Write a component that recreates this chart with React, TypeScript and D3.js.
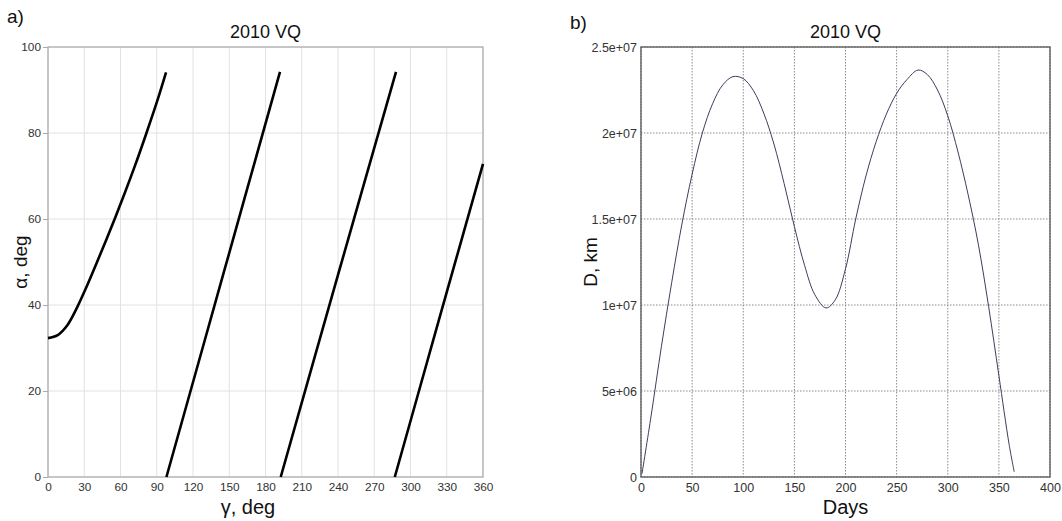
import React, { useEffect, useRef } from 'react';
import * as d3 from 'd3';

// panel a) gamma / alpha branches
const gammaTicks = [0, 30, 60, 90, 120, 150, 180, 210, 240, 270, 300, 330, 360];
const alphaTicks = [0, 20, 40, 60, 80, 100];

const branch1Gamma = [0, 8, 16, 24, 32, 40, 48, 56, 64, 72, 81, 90, 97.7];
const branch1Alpha = [32.3, 33.0, 35.3, 39.4, 44.3, 49.6, 55.0, 60.6, 66.4, 72.4, 79.6, 87.1, 94.1];
const branch2Gamma = [98, 145, 192];
const branch2Alpha = [0, 47.1, 94.2];
const branch3Gamma = [192.6, 240, 288];
const branch3Alpha = [0, 47, 94.2];
const branch4Gamma = [287, 323, 360];
const branch4Alpha = [0, 36, 72.8];

// panel b) distance over the year (millions of km)
const dayTicks = [0, 50, 100, 150, 200, 250, 300, 350, 400];
const distTicks = [0, 5e6, 1e7, 1.5e7, 2e7, 2.5e7];
const distTickLabels = ['0', '5e+06', '1e+07', '1.5e+07', '2e+07', '2.5e+07'];
const days = [1, 10, 20, 30, 40, 50, 60, 70, 80, 90, 100, 110, 120, 130, 140, 150, 160, 170, 181,
    190, 200, 210, 220, 230, 240, 250, 260, 271, 280, 290, 300, 310, 320, 330, 340, 350, 360, 365];
const distMkm = [0.2, 3.6, 7.6, 11.3, 14.7, 17.6, 20.0, 21.7, 22.8, 23.28, 23.16, 22.46, 21.16, 19.36, 17.06, 14.56,
    12.3, 10.6, 9.83, 10.3, 12.1, 15.0, 17.5, 19.5, 21.1, 22.3, 23.1, 23.66, 23.4, 22.5, 21.0, 18.9, 16.4,
    13.5, 9.9, 5.9, 1.9, 0.3];

const FONT = 'Liberation Sans, Arial, sans-serif';

export default function App() {
    const ref = useRef<SVGSVGElement>(null);

    useEffect(() => {
        if (!ref.current) return;
        const svg = d3.select(ref.current);
        svg.selectAll('*').remove();

        svg.append('rect').attr('width', 1062).attr('height', 521).attr('fill', '#fff');

        const top = 47, bottom = 477;

        // ---------- panel a ----------
        const xa = d3.scaleLinear().domain([0, 360]).range([48, 483]);
        const ya = d3.scaleLinear().domain([0, 100]).range([bottom, top]);
        const ga = svg.append('g');

        ga.selectAll('line.vg').data(gammaTicks).join('line')
            .attr('x1', d => xa(d)).attr('x2', d => xa(d))
            .attr('y1', top).attr('y2', bottom)
            .attr('stroke', '#e2e2e2').attr('stroke-width', 1);
        ga.selectAll('line.hg').data(alphaTicks).join('line')
            .attr('x1', xa(0)).attr('x2', xa(360))
            .attr('y1', d => ya(d)).attr('y2', d => ya(d))
            .attr('stroke', '#e2e2e2').attr('stroke-width', 1);

        const axA = ga.append('g').attr('transform', `translate(0,${bottom})`)
            .call(d3.axisBottom(xa).tickValues(gammaTicks).tickSize(0).tickPadding(6));
        const ayA = ga.append('g').attr('transform', `translate(${xa(0)},0)`)
            .call(d3.axisLeft(ya).tickValues(alphaTicks).tickSize(5).tickPadding(2));
        [axA, ayA].forEach(a => {
            a.select('.domain').remove();
            a.selectAll('line').attr('stroke', '#aaa');
            a.selectAll('text').attr('font-family', FONT).attr('font-size', 11.8).attr('fill', '#333');
        });
        ga.append('rect')
            .attr('x', xa(0)).attr('y', top).attr('width', xa(360) - xa(0)).attr('height', bottom - top)
            .attr('fill', 'none').attr('stroke', '#aaa').attr('stroke-width', 1.2);

        const lineA = d3.line<[number, number]>()
            .x(d => xa(d[0])).y(d => ya(d[1]))
            .curve(d3.curveCatmullRom.alpha(0.5));
        const branches: [number[], number[]][] = [
            [branch1Gamma, branch1Alpha],
            [branch2Gamma, branch2Alpha],
            [branch3Gamma, branch3Alpha],
            [branch4Gamma, branch4Alpha],
        ];
        branches.forEach(([g, a]) => {
            ga.append('path')
                .datum(g.map((v, i) => [v, a[i]] as [number, number]))
                .attr('fill', 'none').attr('stroke', '#000').attr('stroke-width', 2.6)
                .attr('d', lineA);
        });

        ga.append('text').attr('x', 265.5).attr('y', 38).attr('text-anchor', 'middle')
            .attr('font-family', FONT).attr('font-size', 18).attr('fill', '#111').text('2010 VQ');
        ga.append('text').attr('x', 248).attr('y', 514).attr('text-anchor', 'middle')
            .attr('font-family', FONT).attr('font-size', 20).attr('fill', '#111').text('γ, deg');
        ga.append('text').attr('transform', 'translate(27,262) rotate(-90)').attr('text-anchor', 'middle')
            .attr('font-family', FONT).attr('font-size', 19).attr('fill', '#111').text('α, deg');
        ga.append('text').attr('x', 7).attr('y', 23)
            .attr('font-family', FONT).attr('font-size', 19).attr('fill', '#111').text('a)');

        // ---------- panel b ----------
        const xb = d3.scaleLinear().domain([0, 400]).range([641, 1050]);
        const yb = d3.scaleLinear().domain([0, 2.5e7]).range([bottom, top]);
        const gb = svg.append('g');

        gb.selectAll('line.vg').data(dayTicks).join('line')
            .attr('x1', d => xb(d)).attr('x2', d => xb(d))
            .attr('y1', top).attr('y2', bottom)
            .attr('stroke', '#8a8a8a').attr('stroke-width', 1).attr('stroke-dasharray', '1.5,1.5');
        gb.selectAll('line.hg').data(distTicks).join('line')
            .attr('x1', xb(0)).attr('x2', xb(400))
            .attr('y1', d => yb(d)).attr('y2', d => yb(d))
            .attr('stroke', '#8a8a8a').attr('stroke-width', 1).attr('stroke-dasharray', '1.5,1.5');

        const axB = gb.append('g').attr('transform', `translate(0,${bottom})`)
            .call(d3.axisBottom(xb).tickValues(dayTicks).tickSize(0).tickPadding(6));
        const ayB = gb.append('g').attr('transform', `translate(${xb(0)},0)`)
            .call(d3.axisLeft(yb).tickValues(distTicks).tickSize(0).tickPadding(4)
                .tickFormat((_d, i) => distTickLabels[i]));
        [axB, ayB].forEach(a => {
            a.select('.domain').remove();
            a.selectAll('text').attr('font-family', FONT).attr('font-size', 12.5).attr('fill', '#333');
        });
        gb.append('rect')
            .attr('x', xb(0)).attr('y', top).attr('width', xb(400) - xb(0)).attr('height', bottom - top)
            .attr('fill', 'none').attr('stroke', '#555').attr('stroke-width', 1.3);

        const lineB = d3.line<number>()
            .x((_d, i) => xb(days[i])).y(d => yb(d * 1e6))
            .curve(d3.curveCatmullRom.alpha(0.5));
        gb.append('path').datum(distMkm)
            .attr('fill', 'none').attr('stroke', '#3a3f5c').attr('stroke-width', 1)
            .attr('d', lineB);

        gb.append('text').attr('x', 845.5).attr('y', 38).attr('text-anchor', 'middle')
            .attr('font-family', FONT).attr('font-size', 18).attr('fill', '#111').text('2010 VQ');
        gb.append('text').attr('x', 845.5).attr('y', 514).attr('text-anchor', 'middle')
            .attr('font-family', FONT).attr('font-size', 20).attr('fill', '#111').text('Days');
        gb.append('text').attr('transform', 'translate(597,262) rotate(-90)').attr('text-anchor', 'middle')
            .attr('font-family', FONT).attr('font-size', 19).attr('fill', '#111').text('D, km');
        gb.append('text').attr('x', 570).attr('y', 29)
            .attr('font-family', FONT).attr('font-size', 19).attr('fill', '#111').text('b)');
    }, []);

    return (
        <svg ref={ref} width={1062} height={521}
            style={{ position: 'absolute', left: 0, top: 0, display: 'block' }} />
    );
}
